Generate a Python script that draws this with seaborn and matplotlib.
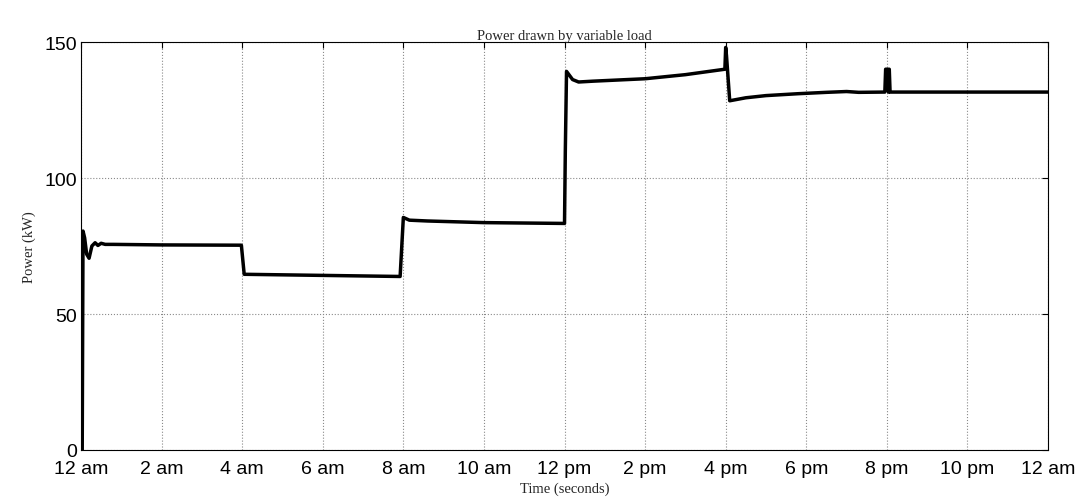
import matplotlib
matplotlib.use("Agg")
import matplotlib.pyplot as plt
import seaborn as sns
import pandas as pd

# Time in hours since midnight and power drawn (kW)
hours = [0.0, 0.03, 0.05, 0.09, 0.14, 0.2, 0.27, 0.35, 0.42, 0.5, 0.6, 0.8, 2.0,
         3.98, 4.05, 5.0, 7.92, 8.0, 8.15, 8.6, 10.0, 12.0, 12.02, 12.05, 12.2,
         12.35, 12.7, 14.0, 15.0, 15.98, 16.0, 16.02, 16.1, 16.5, 17.0, 17.8,
         18.5, 19.0, 19.3, 19.95, 19.97, 20.02, 20.04, 20.06, 20.08, 24.0]
power = [0, 0, 80.5, 78, 72, 70.5, 75, 76.2, 75.2, 76, 75.6, 75.6, 75.4,
         75.3, 64.6, 64.4, 63.8, 85.5, 84.5, 84.2, 83.6, 83.3, 110, 139.2, 136.2,
         135.3, 135.6, 136.5, 138.0, 140.0, 148, 145, 128.4, 129.5, 130.3, 131.0,
         131.5, 131.8, 131.5, 131.6, 140, 140, 131.6, 140, 131.6, 131.6]

tick_pos = [0, 2, 4, 6, 8, 10, 12, 14, 16, 18, 20, 22, 24]
tick_labels = ["12 am", "2 am", "4 am", "6 am", "8 am", "10 am", "12 pm",
               "2 pm", "4 pm", "6 pm", "8 pm", "10 pm", "12 am"]
y_ticks = [0, 50, 100, 150]

df = pd.DataFrame({"hours": hours, "power": power})

sns.set_style("white")
plt.rcParams["font.family"] = ["Liberation Sans", "DejaVu Sans"]

fig = plt.figure(figsize=(10.83, 5.02), dpi=100)
ax = fig.add_axes([0.0748, 0.1016, 0.8929, 0.8127])

sns.lineplot(data=df, x="hours", y="power", ax=ax, color="black",
             linewidth=2.5, estimator=None, sort=False)

ax.set_xlim(0, 24)
ax.set_ylim(0, 150)
ax.set_xticks(tick_pos)
ax.set_xticklabels(tick_labels)
ax.set_yticks(y_ticks)
ax.tick_params(direction="in", length=4, width=0.8, top=True, right=True,
               labelsize=14, colors="black")
ax.tick_params(axis="x", pad=7)
ax.tick_params(axis="y", pad=3)
ax.grid(True, linestyle=":", color="#8a8a8a", linewidth=0.8)
for s in ax.spines.values():
    s.set_visible(True)
    s.set_color("black")
    s.set_linewidth(0.8)

serif = ["Liberation Serif", "DejaVu Serif"]
ax.set_title("Power drawn by variable load", family=serif, fontsize=10.5, pad=2)
ax.set_xlabel("Time (seconds)", family=serif, fontsize=10.5)
ax.set_ylabel("Power (kW)", family=serif, fontsize=10.5, labelpad=6)
ax.xaxis.set_label_coords(0.5, -0.077)

fig.savefig("out.png", dpi=100)
